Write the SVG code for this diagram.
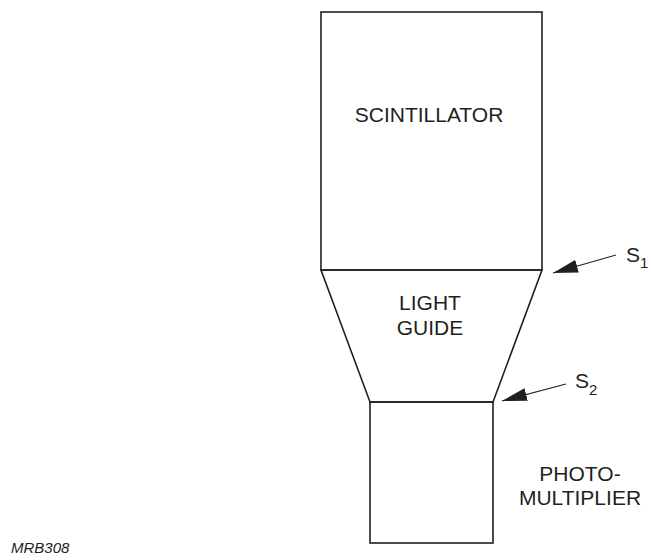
<svg xmlns="http://www.w3.org/2000/svg" width="651" height="560" viewBox="0 0 651 560">
<style>
.shape{fill:none;stroke:#231f20;stroke-width:1.6}
.lbl{font-family:"Liberation Sans",Arial,sans-serif;font-size:21px;fill:#231f20;text-anchor:middle}
.sub{font-family:"Liberation Sans",Arial,sans-serif;font-size:21px;fill:#231f20}
.conn{stroke:#231f20;stroke-width:1.1;fill:none}
</style>
<defs>
<marker id="ah" markerUnits="userSpaceOnUse" markerWidth="28" markerHeight="14" refX="25" refY="7" orient="auto">
<path d="M0,0.5 L25,7 L0,13.5 Z" fill="#231f20"/>
</marker>
</defs>
<rect width="651" height="560" fill="#fff"/>
<g id="scintillator">
<rect class="shape" x="321" y="12" width="221" height="258"/>
<text class="lbl" x="429" y="122">SCINTILLATOR</text>
</g>
<g id="light-guide">
<path class="shape" d="M321,270 L542,270 L493,402 L370,402 Z"/>
<text class="lbl" x="430" y="310">LIGHT</text>
<text class="lbl" x="430" y="335">GUIDE</text>
</g>
<g id="photomultiplier">
<rect class="shape" x="370" y="402" width="123" height="141"/>
<text class="lbl" x="580" y="481">PHOTO-</text>
<text class="lbl" x="580" y="505">MULTIPLIER</text>
</g>
<g id="connectors">
<line class="conn" x1="616" y1="255" x2="553" y2="273" marker-end="url(#ah)"/>
<line class="conn" x1="566" y1="384" x2="502" y2="401" marker-end="url(#ah)"/>
</g>
<g id="s1">
<text class="sub" x="626" y="262">S<tspan font-size="15" dy="6">1</tspan></text>
</g>
<g id="s2">
<text class="sub" x="575" y="388">S<tspan font-size="15" dy="7">2</tspan></text>
</g>
<text x="11" y="553" font-family="Liberation Sans,Arial,sans-serif" font-size="15" font-style="italic" fill="#231f20">MRB308</text>
</svg>
